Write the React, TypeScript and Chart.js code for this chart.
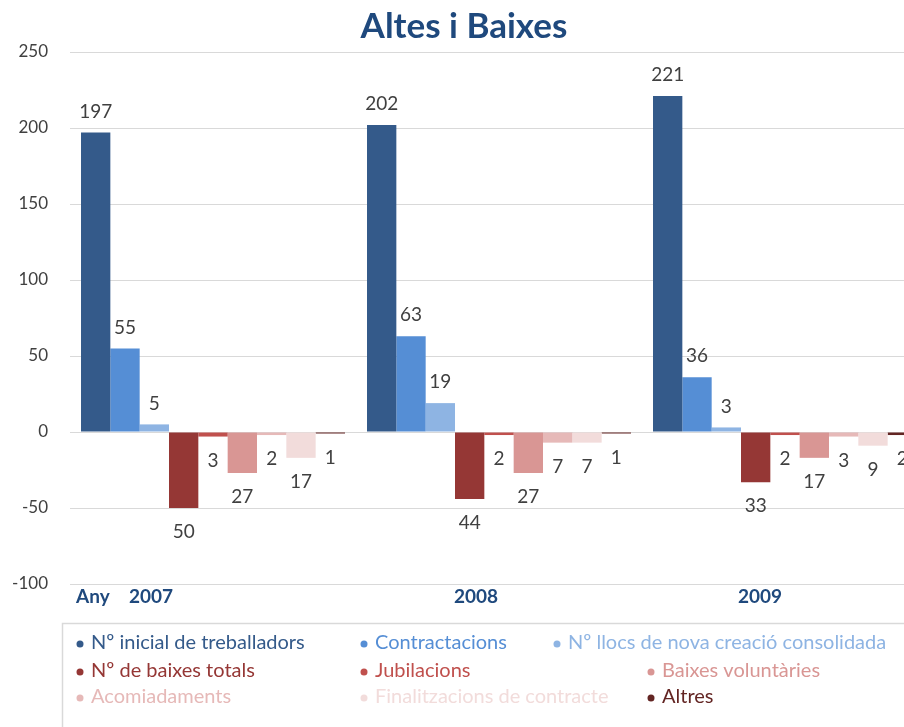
import React, { useEffect, useRef } from "react";
import { Chart, registerables } from "chart.js";

Chart.register(...registerables);

const FONT = "Lato, 'Open Sans', sans-serif";

const categories = ["2007", "2008", "2009"];
const axisPrefix = "Any";
const titleText = "Altes i Baixes";

const seriesNames = [
  "Nº inicial de treballadors",
  "Contractacions",
  "Nº llocs de nova creació consolidada",
  "Nº de baixes totals",
  "Jubilacions",
  "Baixes voluntàries",
  "Acomiadaments",
  "Finalitzacions de contracte",
  "Altres",
];

const inicial = [197, 202, 221];
const contractacions = [55, 63, 36];
const llocs = [5, 19, 3];
const baixesTotals = [-50, -44, -33];
const jubilacions = [-3, -2, -2];
const voluntaries = [-27, -27, -17];
const acomiadaments = [-2, -7, -3];
const finalitzacions = [-17, -7, -9];
const altres = [-1, -1, -2];

const yMin = -100;
const yMax = 250;
const yStep = 50;

const seriesValues = [
  inicial,
  contractacions,
  llocs,
  baixesTotals,
  jubilacions,
  voluntaries,
  acomiadaments,
  finalitzacions,
  altres,
];

const seriesColors = [
  "#345A8A",
  "#558ED5",
  "#8EB4E3",
  "#953735",
  "#C0504D",
  "#D99694",
  "#E6B9B8",
  "#F2DCDB",
  "#632523",
];

const valueLabelPlugin = {
  id: "valueLabels",
  afterDatasetsDraw(chart: any) {
    const ctx = chart.ctx;
    ctx.save();
    ctx.font = `19px ${FONT}`;
    ctx.fillStyle = "#404040";
    ctx.textAlign = "center";
    ctx.textBaseline = "middle";
    chart.data.datasets.forEach((ds: any, i: number) => {
      const meta = chart.getDatasetMeta(i);
      meta.data.forEach((el: any, j: number) => {
        const v = ds.data[j] as number;
        const y = v >= 0 ? el.y - 21 : el.y + 24;
        ctx.fillText(String(Math.abs(v)), el.x, y);
      });
    });
    ctx.restore();
  },
};

const axisLabelPlugin = {
  id: "axisLabels",
  afterDraw(chart: any) {
    const ctx = chart.ctx;
    const xs = chart.scales.x;
    const area = chart.chartArea;
    const y = area.bottom + 13;
    const offsets = [-62, -23, -25];
    ctx.save();
    ctx.font = `bold 19px ${FONT}`;
    ctx.fillStyle = "#1F497D";
    ctx.textBaseline = "middle";
    ctx.textAlign = "left";
    ctx.fillText(axisPrefix, 76, y);
    ctx.textAlign = "center";
    (chart.data.labels as string[]).forEach((lab, i) => {
      ctx.fillText(lab, xs.getPixelForValue(i) + offsets[i], y);
    });
    ctx.restore();
  },
};

const legendPlugin = {
  id: "customLegend",
  afterDraw(chart: any) {
    const ctx = chart.ctx;
    const area = chart.chartArea;
    const boxTop = area.bottom + 39;
    ctx.save();
    ctx.strokeStyle = "#D9D9D9";
    ctx.lineWidth = 1.5;
    ctx.strokeRect(62.5, boxTop + 0.5, chart.width, 200);
    const rowsY = [boxTop + 20, boxTop + 48, boxTop + 74];
    const colsX = [
      [80, 364, 557],
      [80, 364, 651],
      [80, 364, 651],
    ];
    ctx.font = `20px ${FONT}`;
    ctx.textBaseline = "middle";
    ctx.textAlign = "left";
    chart.data.datasets.forEach((ds: any, i: number) => {
      const r = Math.floor(i / 3);
      const c = i % 3;
      const x = colsX[r][c];
      const y = rowsY[r];
      ctx.fillStyle = ds.backgroundColor;
      ctx.beginPath();
      ctx.arc(x, y + 1, 3.5, 0, Math.PI * 2);
      ctx.fill();
      ctx.fillText(ds.label, x + 11, y);
    });
    ctx.restore();
  },
};

export default function App() {
  const canvasRef = useRef<HTMLCanvasElement | null>(null);

  useEffect(() => {
    if (!canvasRef.current) return;
    const chart = new Chart(canvasRef.current, {
      type: "bar",
      data: {
        labels: categories,
        datasets: seriesNames.map((name, i) => ({
          label: name,
          data: seriesValues[i],
          backgroundColor: seriesColors[i],
          borderWidth: 0,
          barPercentage: 1,
          categoryPercentage: 0.923,
        })),
      },
      options: {
        responsive: false,
        devicePixelRatio: 1,
        animation: false,
        layout: { padding: { top: 0, right: 12, bottom: 143, left: 0 } },
        plugins: {
          legend: { display: false },
          tooltip: { enabled: false },
          title: {
            display: true,
            text: titleText,
            color: "#1F497D",
            font: { family: FONT, size: 35, weight: "bold" },
            padding: { top: 6, bottom: 4 },
          },
        },
        scales: {
          x: {
            display: false,
          },
          y: {
            min: yMin,
            max: yMax,
            border: { display: false },
            grid: { color: "#D9D9D9", drawTicks: false },
            ticks: {
              stepSize: yStep,
              padding: 22,
              color: "#404040",
              font: { family: FONT, size: 17 },
            },
            afterFit(scale: any) {
              scale.width = 70;
            },
          },
        },
      },
      plugins: [valueLabelPlugin, axisLabelPlugin, legendPlugin],
    });
    return () => chart.destroy();
  }, []);

  return (
    <div
      style={{
        position: "fixed",
        left: 0,
        top: 0,
        width: 904,
        height: 727,
        overflow: "hidden",
        background: "#fff",
      }}
    >
      <canvas
        ref={canvasRef}
        width={940}
        height={727}
        style={{ width: 940, height: 727, display: "block" }}
      />
    </div>
  );
}
